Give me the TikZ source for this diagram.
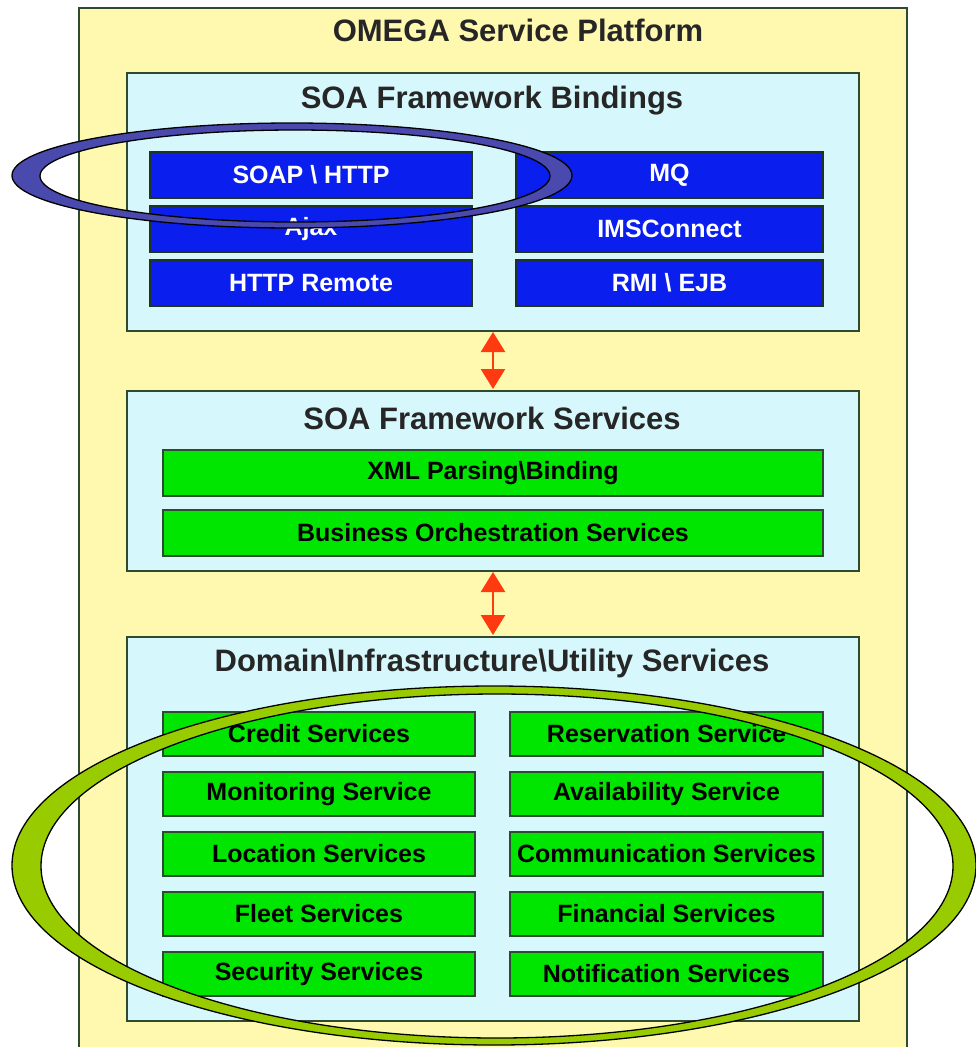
\documentclass[tikz,border=0pt]{standalone}
\usepackage{fontspec}
\setmainfont{Liberation Sans}
\usetikzlibrary{arrows.meta}
\definecolor{outery}{HTML}{FFF9B0}
\definecolor{panelc}{HTML}{D6F8FC}
\definecolor{bluebox}{HTML}{0A1EEE}
\definecolor{greenbox}{HTML}{00E600}
\definecolor{edgec}{HTML}{2E4A30}
\definecolor{arrowred}{HTML}{FF3A10}
\definecolor{ringblue}{HTML}{4A4AAE}
\definecolor{ringgreen}{HTML}{99CC00}
\tikzset{
  panel/.style={draw=edgec, line width=1.5pt, fill=panelc},
  bbox/.style={draw=edgec!70!black, line width=1.2pt, fill=bluebox, text=white, font=\bfseries\fontsize{25}{28}\selectfont, inner sep=0pt},
  gbox/.style={draw=edgec, line width=1.5pt, fill=greenbox, text=black, font=\bfseries\fontsize{25}{28}\selectfont, inner sep=0pt},
  ptitle/.style={font=\bfseries\fontsize{31}{34}\selectfont, text=black!85},
  dblarrow/.style={arrowred, line width=2.5pt, {Triangle[length=20pt,width=24pt]}-{Triangle[length=20pt,width=24pt]}},
}
\begin{document}
\begin{tikzpicture}[x=1pt,y=-1pt]
\useasboundingbox (0,0) rectangle (976,1047);
\fill[white] (0,0) rectangle (976,1047);
% outer platform
\draw[draw=edgec, line width=1.5pt, fill=outery] (79,8) rectangle (907,1060);
\node[font=\bfseries\fontsize{31}{34}\selectfont, text=black!85] (ttl) at (518,30) {OMEGA Service Platform};

% panels
\node[panel, minimum width=732pt, minimum height=258pt, anchor=north west, inner sep=0pt] (p1) at (126,72) {};
\node[ptitle] (p1t) at (492,101) {SOA Framework Bindings};
\node[panel, minimum width=732pt, minimum height=180pt, anchor=north west, inner sep=0pt] (p2) at (126,390) {};
\node[ptitle] (p2t) at (492,418) {SOA Framework Services};
\node[panel, minimum width=732pt, minimum height=384pt, anchor=north west, inner sep=0pt] (p3) at (126,636) {};
\node[ptitle] (p3t) at (492,663) {Domain\textbackslash Infrastructure\textbackslash Utility Services};

% blue bindings
\node[bbox, minimum width=322pt, minimum height=46pt] (b1) at (311,175) {SOAP \textbackslash\ HTTP};
\node[bbox, minimum width=322pt, minimum height=46pt] (b2) at (311,229) {Ajax};
\node[bbox, minimum width=322pt, minimum height=46pt] (b3) at (311,283) {HTTP Remote};
\node[bbox, minimum width=307pt, minimum height=46pt] (b4) at (669.5,175) {MQ};
\node[bbox, minimum width=307pt, minimum height=46pt] (b5) at (669.5,229) {IMSConnect};
\node[bbox, minimum width=307pt, minimum height=46pt] (b6) at (669.5,283) {RMI \textbackslash\ EJB};

% framework services
\node[gbox, minimum width=660pt, minimum height=46pt] (s1) at (493,473) {XML Parsing\textbackslash Binding};
\node[gbox, minimum width=660pt, minimum height=46pt] (s2) at (493,533) {Business Orchestration Services};

% domain services
\node[gbox, minimum width=312pt, minimum height=44pt] (d1) at (319,734) {Credit Services};
\node[gbox, minimum width=312pt, minimum height=44pt] (d2) at (319,794) {Monitoring Service};
\node[gbox, minimum width=312pt, minimum height=44pt] (d3) at (319,854) {Location Services};
\node[gbox, minimum width=312pt, minimum height=44pt] (d4) at (319,914) {Fleet Services};
\node[gbox, minimum width=312pt, minimum height=44pt] (d5) at (319,974) {Security Services};
\node[gbox, minimum width=313pt, minimum height=44pt] (d6) at (666.5,734) {Reservation Service};
\node[gbox, minimum width=313pt, minimum height=44pt] (d7) at (666.5,794) {Availability Service};
\node[gbox, minimum width=313pt, minimum height=44pt] (d8) at (666.5,854) {Communication Services};
\node[gbox, minimum width=313pt, minimum height=44pt] (d9) at (666.5,914) {Financial Services};
\node[gbox, minimum width=313pt, minimum height=44pt] (d10) at (666.5,974) {Notification Services};

% arrows
\coordinate (a1t) at (493,332);
\coordinate (a1b) at (493,389);
\coordinate (a2t) at (493,572);
\coordinate (a2b) at (493,635);
\draw[dblarrow] (a1t) -- (a1b);
\draw[dblarrow] (a2t) -- (a2b);

% highlight rings
\fill[ringblue, even odd rule] (292,175.5) ellipse [x radius=280, y radius=52.5]
      (295,176) ellipse [x radius=255, y radius=46];
\draw[black, line width=1.3pt] (292,175.5) ellipse [x radius=280, y radius=52.5];
\draw[black, line width=1.3pt] (295,176) ellipse [x radius=255, y radius=46];

\fill[ringgreen, even odd rule] (494,865.5) ellipse [x radius=482, y radius=179.5]
      (497,866) ellipse [x radius=456, y radius=172];
\draw[black, line width=1.3pt] (494,865.5) ellipse [x radius=482, y radius=179.5];
\draw[black, line width=1.3pt] (497,866) ellipse [x radius=456, y radius=172];
\end{tikzpicture}
\end{document}
